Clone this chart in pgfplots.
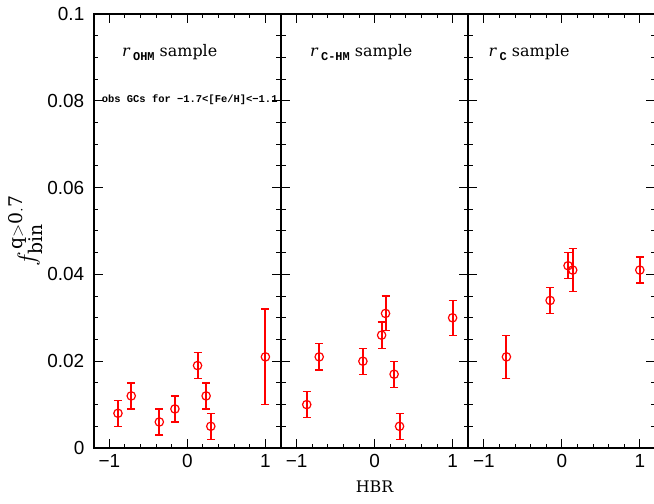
\documentclass[border=0pt]{standalone}
\usepackage{fontspec}
\setmainfont{DejaVu Serif}
\setsansfont{Liberation Sans}
\setmonofont{Liberation Mono}
\usepackage{pgfplots}
\pgfplotsset{compat=1.18}

\pgfplotsset{
  panel/.style={
    scale only axis,
    width=187.2bp, height=434bp,
    xmin=-1.2, xmax=1.2, ymin=0, ymax=0.1,
    axis line style={line width=1.6bp},
    tick align=inside,
    xtick pos=both, ytick pos=both,
    xtick={-1,0,1}, xticklabels={−1,0,1},
    minor x tick num=4,
    ytick={0,0.02,0.04,0.06,0.08,0.1},
    minor y tick num=3,
    major tick length=9bp, minor tick length=4.5bp,
    every tick/.style={black, line width=1bp},
    tick label style={font=\sffamily\fontsize{19}{19}\selectfont},
    xticklabel style={yshift=-3bp},
    yticklabel style={xshift=-6bp},
    clip=false,
  },
  pts/.style={
    red, line width=1.2bp, mark=o, mark size=4.2bp, only marks,
    error bars/.cd, y dir=both, y explicit,
    error bar style={red, solid, line width=2bp},
    error mark options={rotate=90, red, line width=1.3bp, mark size=4bp},
  },
}

\newcommand{\sub}[1]{\raisebox{-0.55ex}{\fontsize{12}{12}\selectfont\ttfamily\bfseries #1}}

\begin{document}
\begin{tikzpicture}
\useasboundingbox (0,0) rectangle (654bp,504bp);

% left panel
\begin{axis}[panel, at={(93.8bp,56bp)}, anchor=south west,
  yticklabels={0,0.02,0.04,0.06,0.08,0.1},
  ylabel={$f^{\,\mathrm{q>0.7}}_{\mathrm{bin}}$},
  ylabel style={font=\fontsize{27}{27}\selectfont, yshift=-2bp},
]
\addplot[pts] coordinates {
  (-0.89,0.008) +- (0,0.003)
  (-0.72,0.012) +- (0,0.003)
  (-0.36,0.006) +- (0,0.003)
  (-0.16,0.009) +- (0,0.003)
  (0.13,0.019) +- (0,0.003)
  (0.24,0.012) +- (0,0.003)
  (0.30,0.005) +- (0,0.003)
  (1.00,0.021) +- (0,0.011)
};
\node[anchor=base west, inner sep=0pt, font=\fontsize{16}{16}\selectfont] at (axis cs:-0.84,0.0903) {\textit{r}\,\sub{OHM} sample};
\node[anchor=base west, inner sep=0pt, font=\fontsize{10.5}{10.5}\selectfont\ttfamily\bfseries] at (axis cs:-1.10,0.0795) {obs GCs for −1.7<[Fe/H]<−1.1};
\end{axis}

% middle panel
\begin{axis}[panel, at={(281bp,56bp)}, anchor=south west,
  yticklabels={},
  xlabel={HBR},
  xlabel style={font=\fontsize{16}{16}\selectfont, yshift=-6bp},
]
\addplot[pts] coordinates {
  (-0.87,0.010) +- (0,0.003)
  (-0.71,0.021) +- (0,0.003)
  (-0.15,0.020) +- (0,0.003)
  (0.09,0.026) +- (0,0.003)
  (0.14,0.031) +- (0,0.004)
  (0.25,0.017) +- (0,0.003)
  (0.32,0.005) +- (0,0.003)
  (1.00,0.030) +- (0,0.004)
};
\node[anchor=base west, inner sep=0pt, font=\fontsize{16}{16}\selectfont] at (axis cs:-0.83,0.0903) {\textit{r}\,\sub{C-HM} sample};
\end{axis}

% right panel
\begin{axis}[panel, at={(468.2bp,56bp)}, anchor=south west,
  yticklabels={},
]
\addplot[pts] coordinates {
  (-0.71,0.021) +- (0,0.005)
  (-0.15,0.034) +- (0,0.003)
  (0.08,0.042) +- (0,0.003)
  (0.14,0.041) +- (0,0.005)
  (1.00,0.041) +- (0,0.003)
};
\node[anchor=base west, inner sep=0pt, font=\fontsize{16}{16}\selectfont] at (axis cs:-0.94,0.0903) {\textit{r}\,\sub{C} sample};
\end{axis}
\end{tikzpicture}
\end{document}
